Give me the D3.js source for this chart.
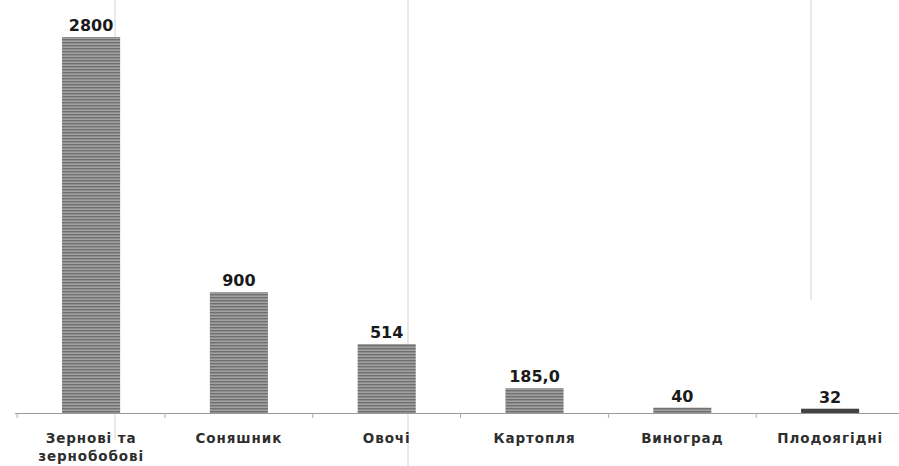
<!DOCTYPE html>
<html><head><meta charset="utf-8">
<script src="https://cdn.jsdelivr.net/npm/d3@7"></script>
<style>
html,body{margin:0;padding:0;background:#fff;}
svg{display:block;}
text{font-family:"DejaVu Sans",sans-serif;fill:#1a1a1a;}
</style></head>
<body>
<svg id="chart" width="899" height="466"></svg>
<script>
const categories = [["Зернові та","зернобобові"],["Соняшник"],["Овочі"],["Картопля"],["Виноград"],["Плодоягідні"]];
const values = [2800, 900, 514, 185, 40, 32];
const valueLabels = ["2800","900","514","185,0","40","32"];

const svg = d3.select("#chart");
const W = 899, H = 466;
const baseY = 413;

const x = d3.scaleBand().domain(d3.range(categories.length))
  .range([17.7, 903.5]).paddingInner(0.607).paddingOuter(0.3);
const y = d3.scaleLinear().domain([0, 2800]).range([baseY, 37]);

// stripe pattern
const defs = svg.append("defs");
const pat = defs.append("pattern").attr("id","stripes").attr("patternUnits","userSpaceOnUse")
  .attr("width", 6).attr("height", 3);
pat.append("rect").attr("width",6).attr("height",3).attr("fill","#a0a0a0");
pat.append("rect").attr("y",0).attr("width",6).attr("height",1.4).attr("fill","#707070");

// faint scan lines
[[115, 0, 440],[408, 0, 466],[811, 0, 300]].forEach(l => {
  svg.append("line").attr("x1", l[0]).attr("x2", l[0]).attr("y1", l[1]).attr("y2", l[2])
    .attr("stroke", "#d4d4d4").attr("stroke-width", 1);
});

// bars
svg.selectAll("rect.bar").data(values).enter().append("rect")
  .attr("class","bar")
  .attr("x", (d,i) => x(i))
  .attr("width", x.bandwidth())
  .attr("y", d => y(d))
  .attr("height", d => baseY - y(d))
  .attr("fill", (d,i) => i === 5 ? "#444" : "url(#stripes)");

// axis line with ticks at band boundaries
const step = x.step();
svg.append("line").attr("x1", 15).attr("x2", W).attr("y1", baseY+0.5).attr("y2", baseY+0.5)
  .attr("stroke", "#9a9a9a").attr("stroke-width", 1.2);
const bounds = d3.range(categories.length).map(i => x(i) - (step - x.bandwidth())/2);
svg.selectAll("line.tick").data(bounds).enter().append("line")
  .attr("x1", d => d).attr("x2", d => d).attr("y1", baseY).attr("y2", baseY+5)
  .attr("stroke", "#aaa").attr("stroke-width", 1);

// value labels
svg.selectAll("text.val").data(values).enter().append("text")
  .attr("x", (d,i) => x(i) + x.bandwidth()/2)
  .attr("y", d => y(d) - 6)
  .attr("text-anchor","middle")
  .style("font-size","16px").style("font-weight","bold")
  .text((d,i) => valueLabels[i]);

// category labels
const cl = svg.selectAll("text.cat").data(categories).enter().append("text")
  .attr("x", (d,i) => x(i) + x.bandwidth()/2)
  .attr("y", 443)
  .attr("text-anchor","middle")
  .style("font-size","13.5px").style("font-weight","bold").style("letter-spacing","0.9px")
  .style("fill","#2e2e2e");
cl.each(function(d){
  const t = d3.select(this);
  d.forEach((line, j) => {
    t.append("tspan").attr("x", t.attr("x")).attr("dy", j === 0 ? 0 : 18).text(line);
  });
});
</script>
</body></html>
